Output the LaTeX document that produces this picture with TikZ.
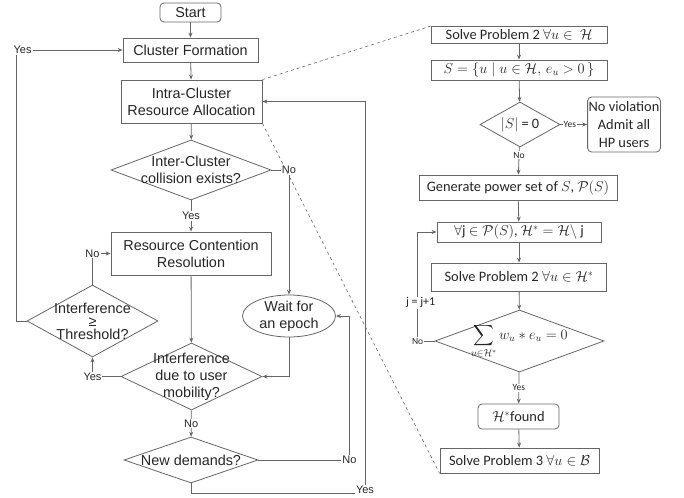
\documentclass[tikz,border=0pt]{standalone}
\usepackage{amsmath,amssymb}
\usepackage{fontspec}
\setmainfont{Liberation Sans}
\newfontfamily\calibrif{Carlito}
\usepackage{tikz}
\usetikzlibrary{shapes,arrows,arrows.meta,positioning}

\begin{document}
\begin{tikzpicture}[
    x=1pt, y=-1pt,
    font=\fontsize{14.4}{17}\selectfont,
    every node/.style={text=black!85},
    line/.style={draw=black!60, line width=0.8pt},
    arrow/.style={line, ->, >={Stealth[length=5pt,width=4pt]}},
    link/.style={draw=black!60, line width=0.6pt, dashed},
    block/.style={rectangle, line, fill=white, align=center, inner sep=1pt},
    term/.style={block, rounded corners=4pt},
    decision/.style={diamond, line, fill=white, inner sep=0pt},
    waitbox/.style={ellipse, line, fill=white, inner sep=0pt},
    dtext/.style={align=center, inner sep=0pt},
    rblock/.style={block, font=\calibrif\fontsize{14.4}{18}\selectfont},
    rterm/.style={term, font=\calibrif\fontsize{14.4}{18}\selectfont},
    rdecision/.style={decision},
    rdtext/.style={dtext, font=\calibrif\fontsize{14.4}{18}\selectfont},
    tag/.style={fill=white, inner sep=1pt, font=\fontsize{11}{12}\selectfont},
    rtag/.style={fill=white, inner sep=1pt, font=\calibrif\fontsize{9.5}{11}\selectfont},
    ltag/.style={fill=white, inner sep=1pt, font=\calibrif\fontsize{12}{13}\selectfont}
]
\useasboundingbox (0,0) rectangle (684,497);

\node [term, minimum width=61pt, minimum height=19pt] (start) at (190.5,12.5) {Start};
\node [block, minimum width=135pt, minimum height=24pt] (cluster) at (190.5,50) {Cluster Formation};
\node [block, minimum width=141pt, minimum height=43pt] (intra) at (191.5,101.5) {Intra-Cluster\\Resource Allocation};
\node [decision, minimum width=160pt, minimum height=60pt,
       label={[dtext]center:{Inter-Cluster\\collision exists?}}] (collide) at (191,170) {};
\node [block, minimum width=160pt, minimum height=43pt] (contend) at (191,253.5) {Resource Contention\\Resolution};
\node [waitbox, minimum width=93pt, minimum height=42pt,
       label={[dtext]center:{Wait for\\an epoch}}] (epoch) at (289,316) {};
\node [decision, minimum width=131pt, minimum height=72pt,
       label={[dtext]center:{Interference\\[-4pt]≥\\[-4pt]Threshold?}}] (thresh) at (92.5,321) {};
\node [decision, minimum width=141pt, minimum height=67pt,
       label={[dtext]center:{Interference\\due to user\\mobility?}}] (mobility) at (191.5,376.5) {};
\node [decision, minimum width=134pt, minimum height=46pt,
       label={[dtext]center:{New demands?}}] (demand) at (191,460) {};

\node [rblock, minimum width=176pt, minimum height=17pt] (solve) at (519,35) {Solve Problem 2 $\forall u\in\ \mathcal{H}$};
\node [rblock, minimum width=176pt, minimum height=20pt] (sset) at (519,70) {$S=\{u\mid u\in\mathcal{H},\, e_u>0\,\}$};
\node [rdecision, minimum width=80pt, minimum height=45pt,
       label={[rdtext]center:{$|S|$ = 0}}] (empty) at (520,124.5) {};
\node [rterm, minimum width=70pt, minimum height=55pt] (admit) at (624,124.5) {No violation\\Admit all\\HP users};
\node [rblock, minimum width=198pt, minimum height=25pt] (power) at (518,187.5) {Generate power set of $S$, $\mathcal{P}(S)$};
\node [rblock, minimum width=164pt, minimum height=20pt] (subset) at (519,232) {$\forall$j $\in\mathcal{P}(S)$, $\mathcal{H}^*=\mathcal{H}\setminus$ j};
\node [rblock, minimum width=175pt, minimum height=28pt] (solvestar) at (519,277) {Solve Problem 2 $\forall u\in\mathcal{H}^*$};
\node [rdecision, minimum width=169pt, minimum height=62pt,
       label={[rdtext]center:{$\displaystyle\sum_{u\in\mathcal{H}^*} w_u * e_u = 0$}}] (zerosum) at (519.5,341) {};
\node [rterm, minimum width=81pt, minimum height=25pt] (found) at (518.5,416.5) {$\mathcal{H}^*$found};
\node [rblock, minimum width=159pt, minimum height=25pt] (solvethree) at (519.5,460.5) {Solve Problem 3 $\forall u\in\mathcal{B}$};

\draw [arrow] (start) -- (cluster);
\draw [arrow] (cluster) -- (intra);
\draw [arrow] (intra) -- (collide);
\draw [arrow] (collide) -- node[tag] {Yes} (contend);
\draw [arrow] (collide.east) -| node[tag, pos=0.5] {No} (epoch.north);
\draw [arrow] (thresh.north) |- node[tag, pos=0.5] {No} (contend.west);
\draw [arrow] (thresh.west) -- ++(-10,0) |- node[tag, pos=0.5, xshift=6pt] {Yes} (cluster.west);
\draw [arrow] (contend) -- (mobility);
\draw [arrow] (epoch.south) |- (mobility.east);
\draw [arrow] (mobility.west) -| node[tag, pos=0.5] {Yes} (thresh.south);
\draw [arrow] (mobility) -- node[tag] {No} (demand);
\draw [arrow] (demand.east) -- ++(91,0) node[tag] {No} |- (epoch.east);
\draw [arrow] (demand.south) -- ++(0,10) -- ++(174,0) node[tag, yshift=4pt] {Yes} |- (intra.east);

\draw [arrow] (solve) -- (sset);
\draw [arrow] (sset) -- (empty);
\draw [arrow] (empty) -- node[rtag, pos=0.35] {Yes} (admit);
\draw [arrow] (empty) -- node[rtag, pos=0.3] {No} (power);
\draw [arrow] (power) -- (subset);
\draw [arrow] (subset) -- (solvestar);
\draw [arrow] (solvestar) -- (zerosum);
\draw [arrow] (zerosum.west) -- ++(-17,0) node[rtag] {No} |- node[ltag, pos=0.175, xshift=3pt] {j = j+1} (subset.west);
\draw [arrow] (zerosum) -- node[rtag] {Yes} (found);
\draw [arrow] (found) -- (solvethree);

\draw [link] (intra.north east) -- (solve.north west);
\draw [link] (intra.south east) -- (solvethree.south west);

\end{tikzpicture}
\end{document}
